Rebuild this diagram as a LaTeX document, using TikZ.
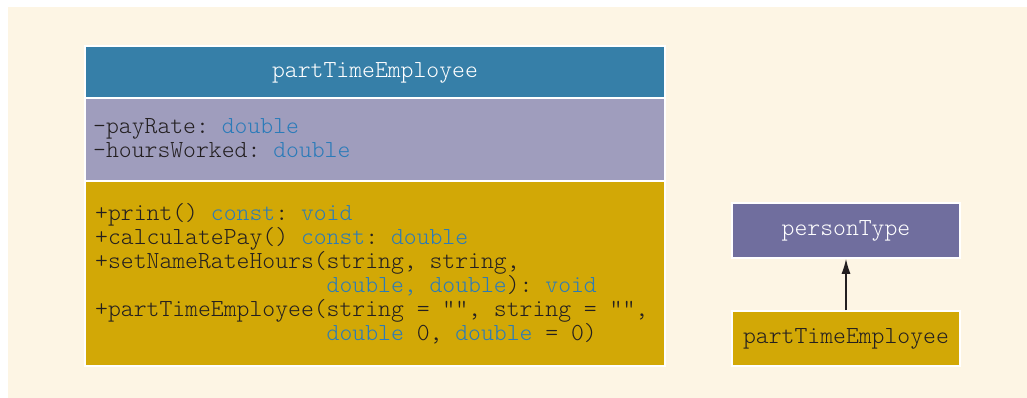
\documentclass[tikz,border=0pt]{standalone}
\usepackage{fontspec}
\setmonofont{Latin Modern Mono Light}
\usetikzlibrary{arrows.meta}
\definecolor{bgcream}{RGB}{253,245,228}
\definecolor{titleblue}{RGB}{54,127,168}
\definecolor{attrpurple}{RGB}{159,157,189}
\definecolor{methgold}{RGB}{210,168,6}
\definecolor{ptpurple}{RGB}{112,110,158}
\definecolor{codeblue}{RGB}{43,123,185}
\definecolor{darktext}{RGB}{35,31,32}
\newcommand{\kw}[1]{\textcolor{codeblue}{#1}}
\begin{document}
\begin{tikzpicture}[x=1pt,y=-1pt,
  compartment/.style={draw=white,line width=1.6pt,inner sep=0pt},
  codeline/.style={anchor=base west,inner sep=0pt,text=darktext,
    font=\fontsize{24.5}{24}\selectfont\ttfamily},
  titletext/.style={text=white,font=\fontsize{24.5}{24}\selectfont\ttfamily},
  arr/.style={-{Latex[length=15pt,width=9pt]},line width=1.3pt,draw=darktext}]
\useasboundingbox (0,0) rectangle (1027,398);
\fill[bgcream] (8,7) rectangle (1027,398);
% big class
\node[compartment,fill=titleblue,minimum width=580pt,minimum height=53pt,titletext] (title) at (375,72.5) {partTimeEmployee};
\node[compartment,fill=attrpurple,minimum width=580pt,minimum height=83pt] (attrs) at (375,139.5) {};
\node[compartment,fill=methgold,minimum width=580pt,minimum height=185pt] (meths) at (375,273.5) {};
% attributes
\node[codeline] (a1) at (93,134) {-payRate: \kw{double}};
\node[codeline] (a2) at (93,158) {-hoursWorked: \kw{double}};
% methods
\node[codeline] (m1) at (95,220) {+print() \kw{const}: \kw{void}};
\node[codeline] (m2) at (95,244) {+calculatePay() \kw{const}: \kw{double}};
\node[codeline] (m3) at (95,268) {+setNameRateHours(string, string,};
\node[codeline] (m4) at (95,292) {\phantom{+setNameRateHours(}\kw{double, double}): \kw{void}};
\node[codeline] (m5) at (95,316) {+partTimeEmployee(string = "", string = "",};
\node[codeline] (m6) at (95,340) {\phantom{+partTimeEmployee(}\kw{double} 0, \kw{double} = 0)};
% inheritance
\node[compartment,fill=ptpurple,minimum width=228pt,minimum height=55pt,titletext] (ptype) at (846,230.5) {personType};
\node[compartment,fill=methgold,minimum width=228pt,minimum height=55pt,titletext,text=darktext] (ptsmall) at (846,338.5) {partTimeEmployee};
\draw[arr] (ptsmall.north) -- (ptype.south);
\end{tikzpicture}
\end{document}
